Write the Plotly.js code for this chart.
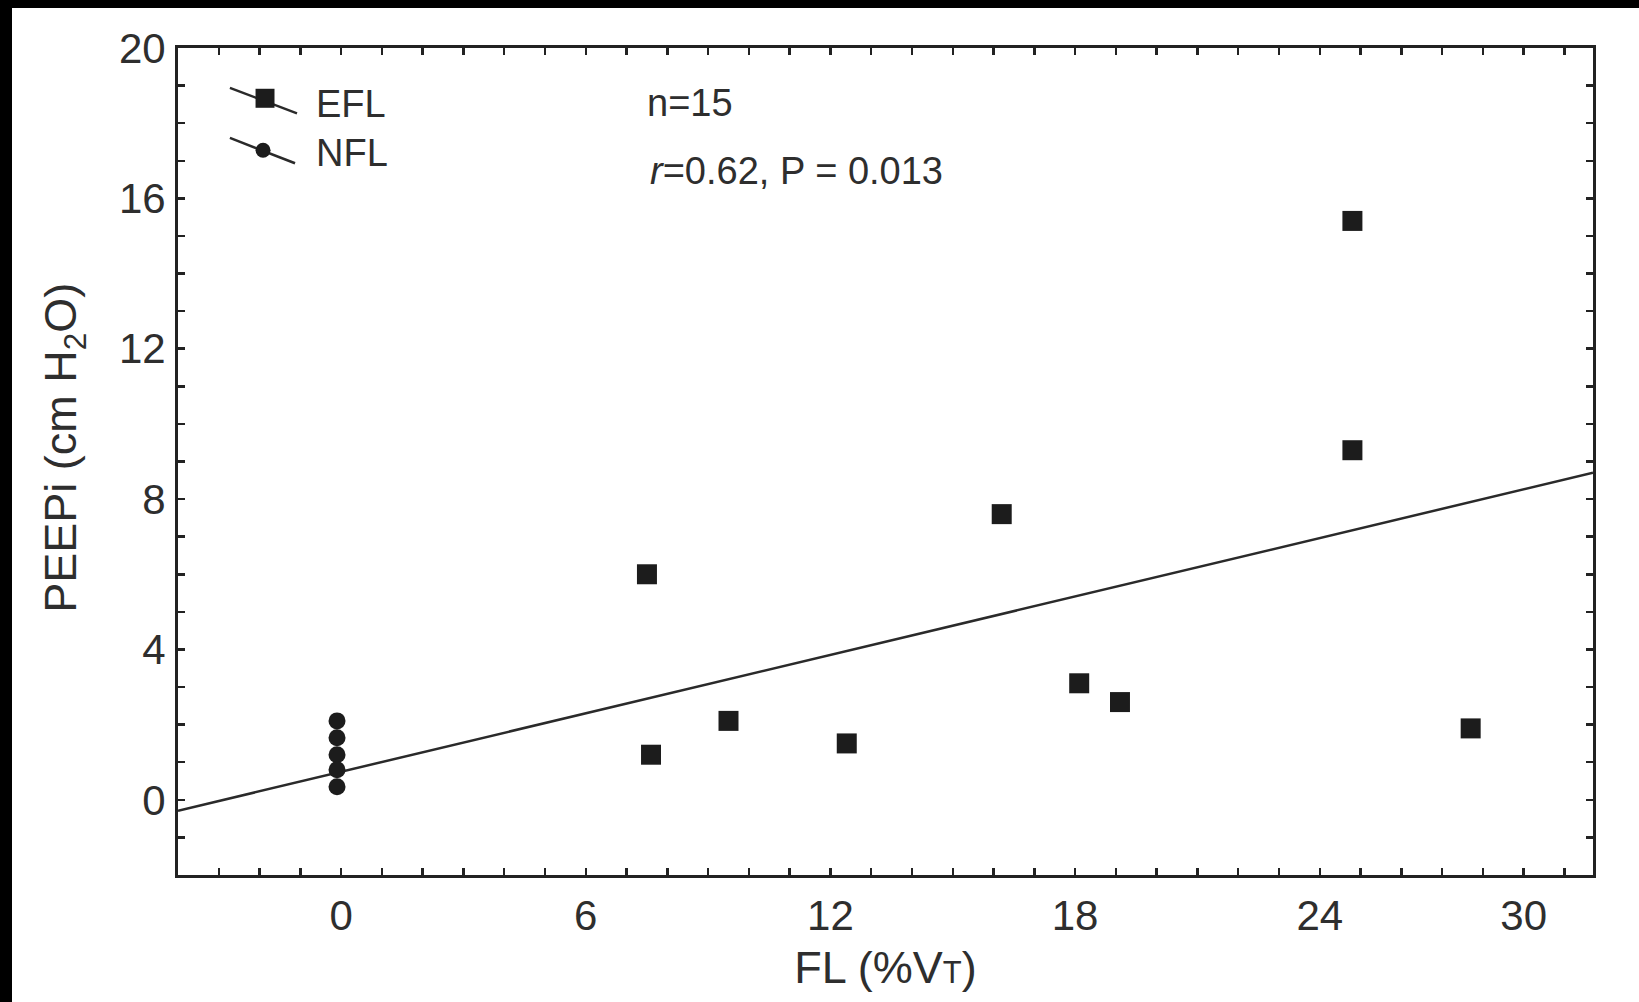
<!DOCTYPE html>
<html>
<head>
<meta charset="utf-8">
<script src="https://cdn.plot.ly/plotly-3.0.1.min.js"></script>
<style>
  html, body { margin: 0; padding: 0; background: #000; width: 1639px; height: 1002px; overflow: hidden; }
  #chart { position: absolute; left: 12px; top: 8px; width: 1627px; height: 994px; background: #fff; }
</style>
</head>
<body>
<div id="chart"></div>
<script>
// ---- data ----
const efl_x = [7.5, 7.6, 9.5, 12.4, 16.2, 18.1, 19.1, 24.8, 24.8, 27.7];
const efl_y = [6.0, 1.2, 2.1, 1.5, 7.6, 3.1, 2.6, 15.4, 9.3, 1.9];
const nfl_x = [-0.1, -0.1, -0.1, -0.1, -0.1];
const nfl_y = [2.1, 1.65, 1.2, 0.8, 0.35];
const fit_x = [-4, 30.7];
const fit_y = [-0.29, 8.7];
const xTickVals = [0, 6, 12, 18, 24, 29];
const xTickText = ['0', '6', '12', '18', '24', '30'];
const yTickVals = [0, 4, 8, 12, 16, 20];
const yTickText = ['0', '4', '8', '12', '16', '20'];
const seriesNames = ['EFL', 'NFL'];
const statN = 'n=15';
const statR = '<i>r</i>=0.62, P = 0.013';
const xTitle = 'FL (%V<span style="font-size:31px">T</span>)';
const yTitle = 'PEEPi (cm H<sub>2</sub>O)';

const FONT = '"Liberation Sans", Arial, Helvetica, sans-serif';
const TXT = '#2e2e2e';
const INK = '#1c1c1c';

const traces = [
  { x: fit_x, y: fit_y, mode: 'lines', line: { color: '#2a2a2a', width: 2.5 }, showlegend: false, hoverinfo: 'skip' },
  { x: efl_x, y: efl_y, mode: 'markers', name: seriesNames[0], marker: { symbol: 'square', size: 20, color: INK }, showlegend: false },
  { x: nfl_x, y: nfl_y, mode: 'markers', name: seriesNames[1], marker: { symbol: 'circle', size: 17, color: INK }, showlegend: false }
];

const axisCommon = {
  showline: true, linecolor: '#222', linewidth: 3, mirror: 'ticks',
  ticks: 'inside', ticklen: 7, tickwidth: 2.5, tickcolor: '#222',
  showgrid: false, zeroline: false,
  tickfont: { family: FONT, size: 42, color: TXT },
  tickmode: 'array'
};

const layout = {
  width: 1627, height: 994,
  margin: { l: 166, r: 46, t: 40, b: 127 },
  paper_bgcolor: '#fff', plot_bgcolor: '#fff',
  font: { family: FONT, color: TXT },
  xaxis: Object.assign({}, axisCommon, {
    range: [-4, 30.7], tickvals: xTickVals, ticktext: xTickText,
    ticklabelstandoff: 2,
    minor: { dtick: 1, tick0: 0, ticks: 'inside', ticklen: 7, tickwidth: 2.5, tickcolor: '#222' },
    title: { text: xTitle, font: { family: FONT, size: 45, color: TXT }, standoff: 14 }
  }),
  yaxis: Object.assign({}, axisCommon, {
    range: [-2, 20], tickvals: yTickVals, ticktext: yTickText,
    ticklabelstandoff: 1,
    minor: { dtick: 1, tick0: 0, ticks: 'inside', ticklen: 7, tickwidth: 2.5, tickcolor: '#222' }
  }),
  shapes: [
    { type: 'line', xref: 'paper', yref: 'paper', x0: 0.0367, y0: 0.9518, x1: 0.0841, y1: 0.9210, line: { color: '#2a2a2a', width: 2.5 } },
    { type: 'rect', xref: 'paper', yref: 'paper', x0: 0.0548, y0: 0.9277, x1: 0.0682, y1: 0.9507, fillcolor: INK, line: { width: 0 } },
    { type: 'line', xref: 'paper', yref: 'paper', x0: 0.0367, y0: 0.8913, x1: 0.0827, y1: 0.8606, line: { color: '#2a2a2a', width: 2.5 } },
    { type: 'circle', xref: 'paper', yref: 'paper', x0: 0.0548, y0: 0.8673, x1: 0.0654, y1: 0.8854, fillcolor: INK, line: { width: 0 } }
  ],
  annotations: [
    { text: yTitle, xref: 'paper', yref: 'paper', x: -0.0805, y: 0.5167, xanchor: 'center', yanchor: 'middle', textangle: -90, showarrow: false, font: { family: FONT, size: 45, color: TXT } },
    { text: seriesNames[0], xref: 'paper', yref: 'paper', x: 0.0961, y: 0.9320, xanchor: 'left', yanchor: 'middle', showarrow: false, font: { family: FONT, size: 38, color: TXT } },
    { text: seriesNames[1], xref: 'paper', yref: 'paper', x: 0.0961, y: 0.8727, xanchor: 'left', yanchor: 'middle', showarrow: false, font: { family: FONT, size: 38, color: TXT } },
    { text: statN, xref: 'paper', yref: 'paper', x: 0.330, y: 0.9338, xanchor: 'left', yanchor: 'middle', showarrow: false, font: { family: FONT, size: 38, color: TXT } },
    { text: statR, xref: 'paper', yref: 'paper', x: 0.3322, y: 0.8516, xanchor: 'left', yanchor: 'middle', showarrow: false, font: { family: FONT, size: 38, color: TXT } }
  ]
};

Plotly.newPlot('chart', traces, layout, { displayModeBar: false, staticPlot: true });
</script>
</body>
</html>
